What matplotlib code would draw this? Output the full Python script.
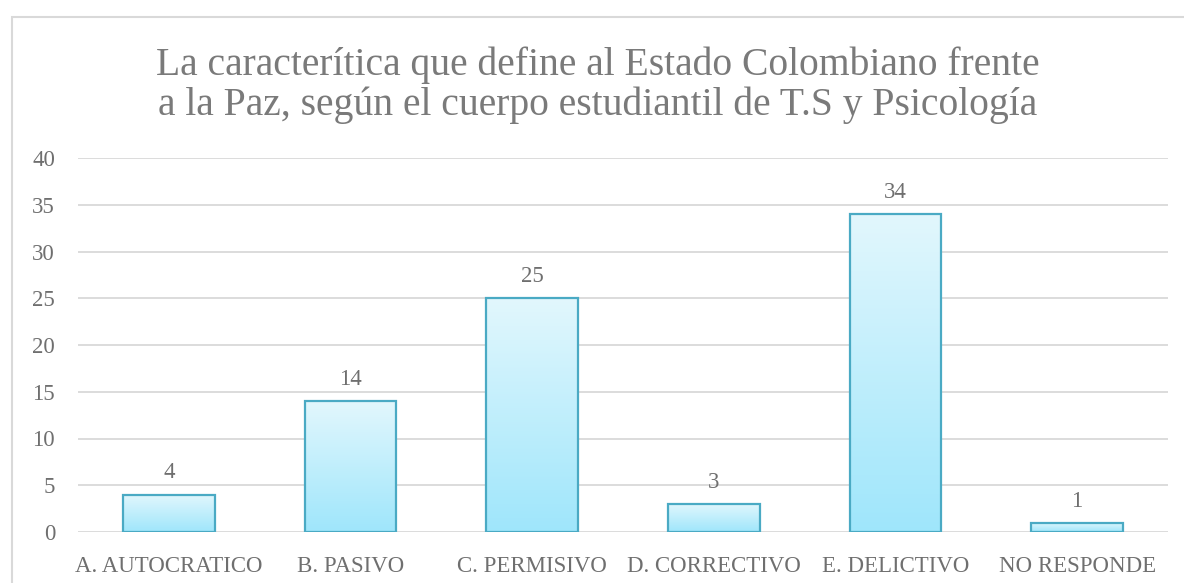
import matplotlib.pyplot as plt
import matplotlib.patches as mpatches
from matplotlib.colors import LinearSegmentedColormap
import numpy as np

categories = ["A. AUTOCRATICO", "B. PASIVO", "C. PERMISIVO", "D. CORRECTIVO",
              "E. DELICTIVO", "NO RESPONDE"]
values = [4, 14, 25, 3, 34, 1]
yticks = [0, 5, 10, 15, 20, 25, 30, 35, 40]
title = ("La caracterítica que define al Estado Colombiano frente\n"
         "a la Paz, según el cuerpo estudiantil de T.S y Psicología")

plt.rcParams['font.family'] = ['Liberation Serif', 'DejaVu Serif']
text_col = "#6f6f6f"

fig = plt.figure(figsize=(11.84, 5.83), dpi=100)
# chart area border
fig.patches.append(mpatches.Rectangle((12 / 1184, -0.05), 1.2, 1 - 17 / 583 + 0.05,
                                      transform=fig.transFigure, fill=False,
                                      edgecolor="#d9d9d9", linewidth=1.5))
ax = fig.add_axes([78 / 1184, 1 - 532 / 583, 1090 / 1184, 374 / 583])

x = np.arange(len(categories))
bars = ax.bar(x, values, width=0.505, facecolor="none", edgecolor="#4aaac4",
              linewidth=1.6, zorder=3)

grad = np.linspace(0, 1, 256).reshape(-1, 1)
cmap = LinearSegmentedColormap.from_list("g", ["#9fe6fb", "#e2f7fd"])
for b in bars:
    x0, w, h = b.get_x(), b.get_width(), b.get_height()
    im = ax.imshow(grad, cmap=cmap, origin="lower", aspect="auto",
                   extent=(x0, x0 + w, 0, h), zorder=2)
    im.set_clip_path(b)
    ax.annotate(str(int(h)), (x0 + w / 2, h), xytext=(0, 8),
                textcoords="offset points", ha="center", va="bottom",
                fontsize=16.5, color=text_col)

ax.set_xlim(-0.5, len(categories) - 0.5)
ax.set_ylim(0, 40)
ax.set_yticks(yticks)
ax.set_xticks(x)
ax.set_xticklabels(categories)
ax.grid(axis="y", color="#d9d9d9", linewidth=1.3, zorder=0)
ax.set_axisbelow(True)
for s in ax.spines.values():
    s.set_visible(False)
ax.tick_params(axis="both", length=0, labelsize=16.5, labelcolor=text_col)
ax.tick_params(axis="y", pad=16.5)
ax.tick_params(axis="x", pad=17)

fig.text(598 / 1184, 1 - 85 / 583, title, ha="center", va="center",
         fontsize=28.5, color="#7a7a7a", linespacing=1.1)

fig.savefig("out.png", dpi=100)
